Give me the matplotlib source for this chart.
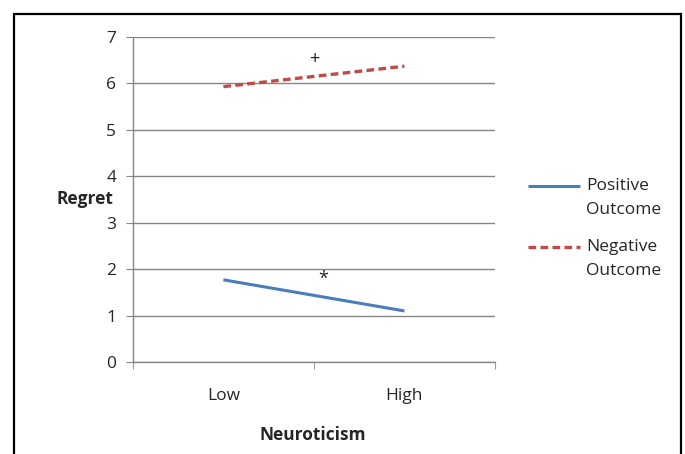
import matplotlib.pyplot as plt
from matplotlib.lines import Line2D
from matplotlib.patches import Rectangle

categories = ['Low', 'High']
positive = [1.77, 1.10]
negative = [5.93, 6.37]
series_names = ['Positive\nOutcome', 'Negative\nOutcome']
colors = ['#4A7EBB', '#BE4B48']

plt.rcParams['font.family'] = ['Open Sans', 'DejaVu Sans']

W, H = 685, 454
fig = plt.figure(figsize=(W / 100, H / 100), dpi=100)
ax = fig.add_axes([0.194, 0.2026, 0.5285, 0.716])

grid_c = '#868686'
txt_c = '#262626'
fs = 12.5
x = range(len(categories))
pos_style = dict(color=colors[0], lw=2.2, solid_capstyle='butt')
neg_style = dict(color=colors[1], lw=2.4, ls=(0, (2.3, 1.3)), dash_capstyle='butt')

ax.plot(x, positive, **pos_style)
ax.plot(x, negative, **neg_style)

ax.text(0.5, 6.52, '+', ha='center', va='center', fontsize=13, color=txt_c)
ax.text(0.55, 1.8, '*', ha='center', va='center', fontsize=13, color=txt_c)

ax.set_xlim(-0.5, 1.5)
ax.set_ylim(0, 7)
ax.set_yticks(range(8))
ax.yaxis.grid(True, color=grid_c, lw=1)
ax.set_axisbelow(True)
ax.set_xticks([0, 1])
ax.set_xticklabels(categories)
ax.set_xticks([-0.5, 0.5, 1.5], minor=True)
ax.tick_params(axis='x', which='major', length=0, pad=19, labelsize=fs, labelcolor=txt_c)
ax.tick_params(axis='x', which='minor', length=5, color=grid_c, direction='out')
ax.tick_params(axis='y', length=5, color=grid_c, labelsize=fs, labelcolor=txt_c, pad=7)

for s in ['top', 'right']:
    ax.spines[s].set_visible(False)
for s in ['left', 'bottom']:
    ax.spines[s].set_color(grid_c)
    ax.spines[s].set_linewidth(1)

fig.text(56 / W, 1 - 199 / H, 'Regret', ha='left', va='center', fontsize=fs,
         fontweight='bold', color=txt_c)
fig.text(313 / W, 1 - 435 / H, 'Neuroticism', ha='center', va='center', fontsize=fs,
         fontweight='bold', color=txt_c)

# legend drawn by hand: handle sits on the first text row, as in Excel
for name, style, ytop in zip(series_names, [pos_style, neg_style], [186, 247]):
    fig.add_artist(Line2D([528 / W, 580 / W], [1 - ytop / H] * 2,
                          transform=fig.transFigure, **style))
    for i, part in enumerate(name.split('\n')):
        fig.text(586 / W, 1 - (ytop + 24 * i) / H, part, ha='left', va='center',
                 fontsize=fs, color=txt_c)

fig.add_artist(Rectangle((14 / W, -0.01), 667 / W, 1 - 14 / H + 0.01,
                         transform=fig.transFigure, fill=False, ec='black', lw=1.6))

fig.savefig('out.png', dpi=100)
